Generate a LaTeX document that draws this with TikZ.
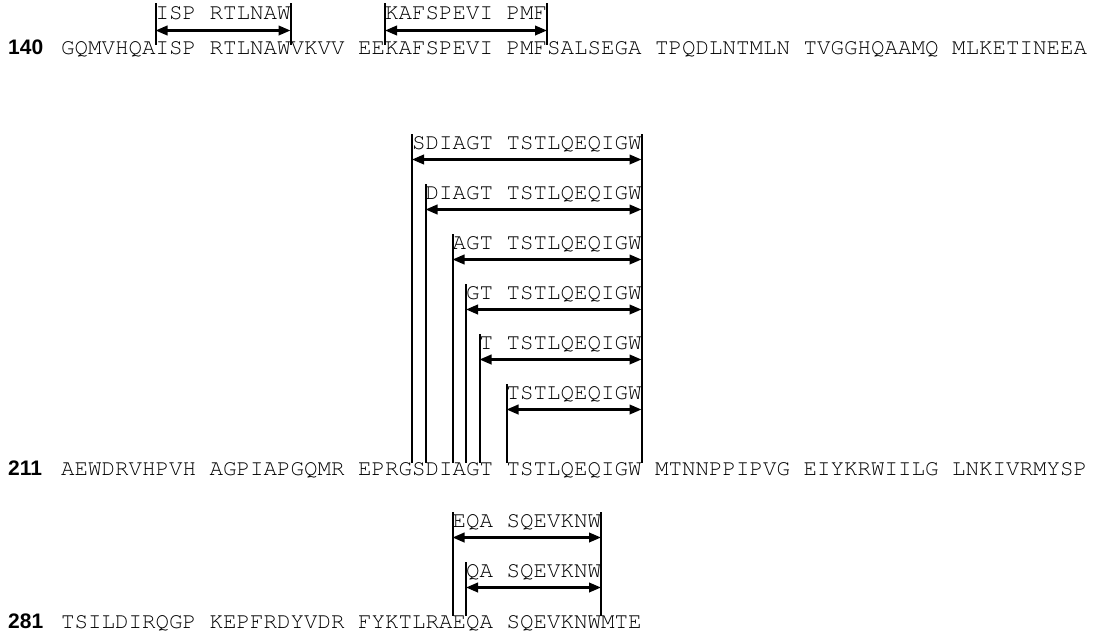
\documentclass[tikz,border=0pt]{standalone}
\usepackage[T1,TU]{fontenc}
\usepackage{fontspec}
\newfontfamily\numfont{Liberation Sans}
\usepackage{tikz}
\usetikzlibrary{arrows.meta, positioning, calc}

\newcommand{\seqfont}{\fontencoding{T1}\fontfamily{pcr}\fontsize{22.5}{27}\selectfont}

\begin{document}
\begin{tikzpicture}[
    x=1pt, y=-1pt,
    seq/.style={anchor=base west, inner sep=0pt, font=\seqfont},
    num/.style={anchor=base west, inner sep=0pt, font=\numfont\bfseries\fontsize{21}{25}\selectfont},
    site/.style={anchor=base west, inner sep=0pt, font=\seqfont},
    bar/.style={line width=2pt},
    span/.style={{Triangle[length=12pt, width=9.5pt]}-{Triangle[length=12pt, width=9.5pt]}, line width=2.3pt},
]
\useasboundingbox (0,0) rectangle (1096,641);

% sequence rows
\node[num] (n140) at (8,54.6) {140};
\node[seq] (r140) at (61,54.6) {GQMVHQAISP RTLNAWVKVV EEKAFSPEVI PMFSALSEGA TPQDLNTMLN TVGGHQAAMQ MLKETINEEA};
\node[num] (n211) at (8,475.6) {211};
\node[seq] (r211) at (61,475.6) {AEWDRVHPVH AGPIAPGQMR EPRGSDIAGT TSTLQEQIGW MTNNPPIPVG EIYKRWIILG LNKIVRMYSP};
\node[num] (n281) at (8,628.6) {281};
\node[seq] (r281) at (61,628.6) {TSILDIRQGP KEPFRDYVDR FYKTLRAEQA SQEVKNWMTE};

% sites above row 140
\foreach \i/\a/\b/\txt in {1/7/17/ISP RTLNAW, 2/24/36/KAFSPEVI PMF} {
  \node[site] (s140-\i) at ({61+13.5*\a},19.6) {\txt};
  \coordinate (t140-\i) at ({61+13.5*\a},3);
  \coordinate (b140-\i) at ({61+13.5*\a},45);
  \coordinate (u140-\i) at ({61+13.5*\b},3);
  \coordinate (v140-\i) at ({61+13.5*\b},45);
  \coordinate (a140-\i) at ({61+13.5*\a},30.5);
  \coordinate (c140-\i) at ({61+13.5*\b},30.5);
  \draw[bar] (t140-\i) -- (b140-\i);
  \draw[bar] (u140-\i) -- (v140-\i);
  \draw[span] (a140-\i) -- (c140-\i);
}

% sites above row 211
\foreach \i/\a/\txt in {0/26/SDIAGT TSTLQEQIGW, 1/27/DIAGT TSTLQEQIGW, 2/29/AGT TSTLQEQIGW,
                        3/30/GT TSTLQEQIGW, 4/31/T TSTLQEQIGW, 5/33/TSTLQEQIGW} {
  \node[site] (s211-\i) at ({61+13.5*\a},{149.8+50*\i}) {\txt};
  \coordinate (t211-\i) at ({61+13.5*\a},{134+50*\i});
  \coordinate (b211-\i) at ({61+13.5*\a},463);
  \coordinate (a211-\i) at ({61+13.5*\a},{159.5+50*\i});
  \coordinate (c211-\i) at ({61+13.5*43},{159.5+50*\i});
  \draw[bar] (t211-\i) -- (b211-\i);
  \draw[span] (a211-\i) -- (c211-\i);
}
\coordinate (e211t) at ({61+13.5*43},134);
\coordinate (e211b) at ({61+13.5*43},463);
\draw[bar] (e211t) -- (e211b);

% sites above row 281
\foreach \i/\a/\txt in {0/29/EQA SQEVKNW, 1/30/QA SQEVKNW} {
  \node[site] (s281-\i) at ({61+13.5*\a},{527.4+50*\i}) {\txt};
  \coordinate (t281-\i) at ({61+13.5*\a},{512+50*\i});
  \coordinate (b281-\i) at ({61+13.5*\a},616);
  \coordinate (a281-\i) at ({61+13.5*\a},{537.5+50*\i});
  \coordinate (c281-\i) at ({61+13.5*40},{537.5+50*\i});
  \draw[bar] (t281-\i) -- (b281-\i);
  \draw[span] (a281-\i) -- (c281-\i);
}
\coordinate (e281t) at ({61+13.5*40},512);
\coordinate (e281b) at ({61+13.5*40},616);
\draw[bar] (e281t) -- (e281b);
\end{tikzpicture}
\end{document}
